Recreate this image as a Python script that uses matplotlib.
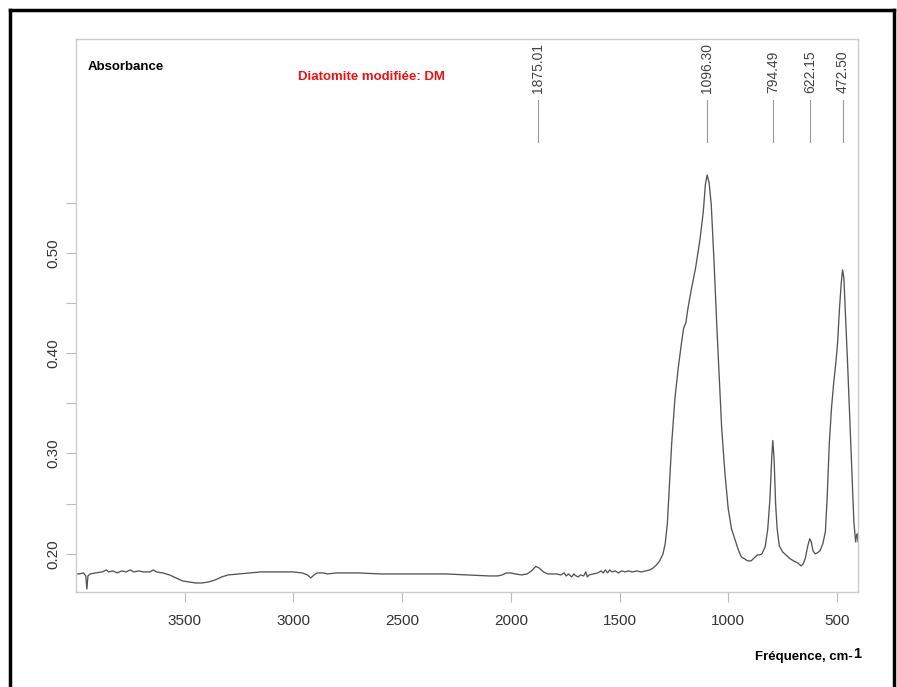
import numpy as np
import matplotlib
matplotlib.use("Agg")
import matplotlib.pyplot as plt
from matplotlib import font_manager
from matplotlib.lines import Line2D

# spectrum (wavenumber cm-1, absorbance)
wavenumber = [4000, 3985, 3965, 3955, 3950, 3945, 3935, 3910, 3880, 3860, 3850, 3830,
              3810, 3790, 3770, 3750, 3735, 3710, 3690, 3660, 3645, 3630, 3600, 3570,
              3540, 3510, 3480, 3450, 3420, 3390, 3360, 3330, 3300, 3250, 3200, 3150,
              3100, 3050, 3000, 2960, 2935, 2920, 2905, 2890, 2860, 2845, 2800, 2700,
              2600, 2500, 2400, 2300, 2200, 2100, 2060, 2040, 2020, 2000, 1980, 1950,
              1925, 1905, 1885, 1870, 1850, 1830, 1810, 1790, 1770, 1755, 1745, 1735,
              1720, 1710, 1700, 1690, 1680, 1665, 1655, 1648, 1640, 1620, 1600, 1585,
              1575, 1565, 1555, 1545, 1535, 1520, 1505, 1490, 1475, 1460, 1440, 1420,
              1400, 1380, 1360, 1345, 1330, 1315, 1300, 1290, 1280, 1270, 1260, 1245,
              1230, 1215, 1205, 1195, 1185, 1170, 1150, 1130, 1115, 1105, 1097, 1088,
              1078, 1065, 1052, 1040, 1030, 1015, 1000, 985, 970, 955, 940, 925,
              910, 895, 880, 865, 855, 845, 830, 818, 808, 800, 795, 789,
              782, 775, 765, 750, 735, 720, 700, 680, 665, 655, 645, 634,
              625, 618, 610, 600, 590, 578, 565, 553, 545, 535, 525, 515,
              505, 497, 488, 480, 474, 468, 460, 450, 440, 430, 422, 414,
              410, 406, 403]
absorbance = [0.180, 0.180, 0.181, 0.178, 0.165, 0.178, 0.180, 0.181, 0.182, 0.184, 0.182, 0.183,
              0.181, 0.183, 0.182, 0.184, 0.182, 0.183, 0.182, 0.182, 0.184, 0.182, 0.181, 0.179,
              0.176, 0.173, 0.172, 0.171, 0.171, 0.172, 0.174, 0.177, 0.179, 0.180, 0.181, 0.182,
              0.182, 0.182, 0.182, 0.181, 0.179, 0.176, 0.179, 0.181, 0.181, 0.180, 0.181, 0.181,
              0.180, 0.180, 0.180, 0.180, 0.179, 0.178, 0.178, 0.179, 0.181, 0.181, 0.180, 0.179,
              0.180, 0.183, 0.1875, 0.186, 0.182, 0.180, 0.180, 0.180, 0.179, 0.181, 0.178, 0.180,
              0.177, 0.180, 0.178, 0.177, 0.179, 0.178, 0.182, 0.177, 0.179, 0.180, 0.181, 0.183,
              0.181, 0.184, 0.181, 0.184, 0.182, 0.183, 0.181, 0.183, 0.182, 0.183, 0.182, 0.183,
              0.182, 0.183, 0.184, 0.186, 0.189, 0.193, 0.200, 0.210, 0.230, 0.270, 0.310, 0.355,
              0.385, 0.410, 0.425, 0.430, 0.445, 0.463, 0.485, 0.513, 0.540, 0.568, 0.5775, 0.570,
              0.548, 0.490, 0.425, 0.370, 0.325, 0.280, 0.245, 0.225, 0.215, 0.205, 0.197, 0.195,
              0.193, 0.193, 0.196, 0.199, 0.199, 0.200, 0.207, 0.225, 0.255, 0.295, 0.313, 0.295,
              0.250, 0.225, 0.208, 0.202, 0.199, 0.196, 0.193, 0.191, 0.188, 0.190, 0.196, 0.208,
              0.215, 0.212, 0.203, 0.200, 0.201, 0.203, 0.210, 0.222, 0.255, 0.310, 0.345, 0.370,
              0.390, 0.410, 0.445, 0.470, 0.483, 0.475, 0.435, 0.385, 0.330, 0.275, 0.232, 0.212,
              0.218, 0.220, 0.212]

peaks = [1875.01, 1096.30, 794.49, 622.15, 472.50]
peak_labels = ["1875.01", "1096.30", "794.49", "622.15", "472.50"]

installed = {f.name for f in font_manager.fontManager.ttflist}
narrow = "Liberation Sans Narrow" if "Liberation Sans Narrow" in installed else "Liberation Sans"
plt.rcParams['font.family'] = ['Liberation Sans', 'DejaVu Sans']

fig = plt.figure(figsize=(8.97, 6.87), dpi=100)
ax = fig.add_axes([76/897, 1 - 592/687, (858 - 76)/897, (592 - 39)/687])

ax.plot(wavenumber, absorbance, color='#555555', lw=0.95)

ax.set_xlim(4000, 403)
ax.set_ylim(0.162, 0.713)
ax.set_xticks([3500, 3000, 2500, 2000, 1500, 1000, 500])
ax.set_yticks([0.20, 0.30, 0.40, 0.50])
ax.set_yticks([0.25, 0.35, 0.45, 0.55], minor=True)
ax.set_yticklabels(["0.20", "0.30", "0.40", "0.50"], rotation=90, va='center')
ax.tick_params(axis='x', direction='out', length=7, width=0.8, color='#bbbbbb',
               labelsize=11, labelcolor='#333333', pad=9)
ax.tick_params(axis='y', which='both', direction='out', length=7.5, width=0.8, color='#bbbbbb',
               labelsize=11, labelcolor='#333333', pad=3.5)
for s in ax.spines.values():
    s.set_color('#cccccc')
    s.set_linewidth(1.0)

# peak markers
for p, lab in zip(peaks, peak_labels):
    ax.plot([p, p], [0.610, 0.652], color='#999999', lw=0.8)
    ax.text(p, 0.659, lab, rotation=90, ha='center', va='bottom',
            fontsize=10, color='#444444')

bold_fam = [narrow, 'DejaVu Sans']
ax.text(0.0155, 0.949, "Absorbance", transform=ax.transAxes, family=bold_fam,
        fontsize=9.5, fontweight='bold', color='black', ha='left', va='center')
ax.text(0.284, 0.932, "Diatomite modifiée: DM", transform=ax.transAxes,
        family=bold_fam, fontsize=9.5, fontweight='bold', color='#ee1111',
        ha='left', va='center')

xlab = fig.text(755/897, 1 - 657/687, "Fréquence, cm-", family=bold_fam,
                fontsize=9.5, fontweight='bold', ha='left', va='center')
fig.canvas.draw()
bb = xlab.get_window_extent()
fig.text((bb.x1 + 0.5)/897, 1 - 654/687, "1", family=bold_fam,
         fontsize=10.5, fontweight='bold', ha='left', va='center')

# outer black frame
fig.add_artist(Line2D([10/897, 10/897], [0, 1 - 10/687], color='black', lw=2.5,
                      transform=fig.transFigure))
fig.add_artist(Line2D([10/897, 894/897], [1 - 10/687, 1 - 10/687], color='black', lw=2.5,
                      transform=fig.transFigure))
fig.add_artist(Line2D([894/897, 894/897], [0, 1 - 10/687], color='black', lw=2.5,
                      transform=fig.transFigure))

fig.savefig("out.png", dpi=100)
